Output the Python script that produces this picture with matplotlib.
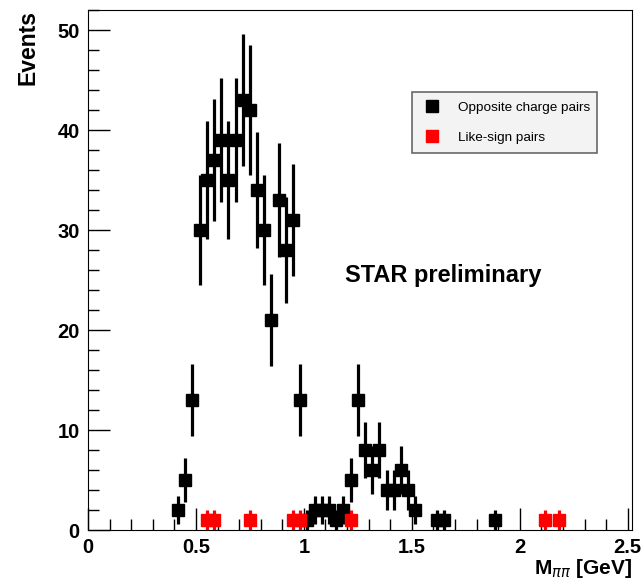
import numpy as np
import matplotlib
matplotlib.use("Agg")
import matplotlib.pyplot as plt
from matplotlib.lines import Line2D
from matplotlib.ticker import MultipleLocator

plt.rcParams['font.family'] = ['Liberation Sans', 'DejaVu Sans']

# histogram bins of 1/30 GeV
bin_width = 1.0 / 30
opp_bins = [12, 13, 14, 15, 16, 17, 18, 19, 20, 21, 22, 23, 24, 25, 26, 27, 28, 29,
            30, 31, 32, 33, 34, 35, 36, 37, 38, 39, 40, 41, 42, 43, 44, 45, 48, 49, 56]
opp_counts = [2, 5, 13, 30, 35, 37, 39, 35, 39, 43, 42, 34, 30, 21, 33, 28, 31, 13,
              1, 2, 2, 2, 1, 2, 5, 13, 8, 6, 8, 4, 4, 6, 4, 2, 1, 1, 1]
like_bins = [16, 17, 22, 28, 29, 36, 63, 65]
like_counts = [1, 1, 1, 1, 1, 1, 1, 1]

opp_x = (np.array(opp_bins) + 0.5) * bin_width
like_x = (np.array(like_bins) + 0.5) * bin_width
opp_y = np.array(opp_counts, dtype=float)
like_y = np.array(like_counts, dtype=float)

fig = plt.figure(figsize=(6.42, 5.81), dpi=100)
ax = fig.add_axes([88 / 642, 51 / 581, 544 / 642, 520 / 581])

ax.errorbar(opp_x, opp_y, yerr=np.sqrt(opp_y), fmt='s', color='black',
            ms=8.6, elinewidth=2.3, capsize=0, zorder=3)
ax.errorbar(like_x, like_y, yerr=np.sqrt(like_y), fmt='s', color='red',
            ms=8.6, elinewidth=2.3, capsize=0, zorder=4)

ax.set_xlim(0, 2.52)
ax.set_ylim(0, 52)
ax.xaxis.set_major_locator(MultipleLocator(0.5))
ax.xaxis.set_minor_locator(MultipleLocator(0.1))
ax.yaxis.set_major_locator(MultipleLocator(10))
ax.yaxis.set_minor_locator(MultipleLocator(2))
ax.tick_params(which='both', direction='in', top=False, right=False,
               labelsize=14.5, width=1)
ax.tick_params(axis='x', pad=6)
ax.tick_params(axis='y', pad=6)
ax.tick_params(which='major', length=16)
ax.tick_params(which='minor', length=8)
for lab in ax.get_xticklabels() + ax.get_yticklabels():
    lab.set_fontweight('bold')
ax.xaxis.set_major_formatter(plt.FuncFormatter(lambda v, p: f"{v:g}"))

ax.set_xlabel(r'M$_{\pi\pi}$ [GeV]', fontsize=15, fontweight='bold', loc='right', labelpad=0)
ax.set_ylabel('Events', fontsize=16.5, fontweight='bold', loc='top', labelpad=13)

ax.text(0.473, 0.477, 'STAR preliminary', transform=ax.transAxes,
        fontsize=17, fontweight='bold', va='baseline')

handles = [Line2D([], [], marker='s', ls='none', color='black', ms=8.6),
           Line2D([], [], marker='s', ls='none', color='red', ms=8.6)]
leg = ax.legend(handles, ['Opposite charge pairs', 'Like-sign pairs'],
                loc='upper left', bbox_to_anchor=(0.596, 0.725, 0.34, 0.117),
                mode='expand', borderaxespad=0, fontsize=9.7, frameon=True,
                fancybox=False, labelspacing=1.3, borderpad=0.7,
                handlelength=1.6, handletextpad=1.1)
leg.get_frame().set_facecolor('#f0f0f0')
leg.get_frame().set_edgecolor('#444444')
leg.get_frame().set_linewidth(1.2)

fig.savefig('out.png', dpi=100)
